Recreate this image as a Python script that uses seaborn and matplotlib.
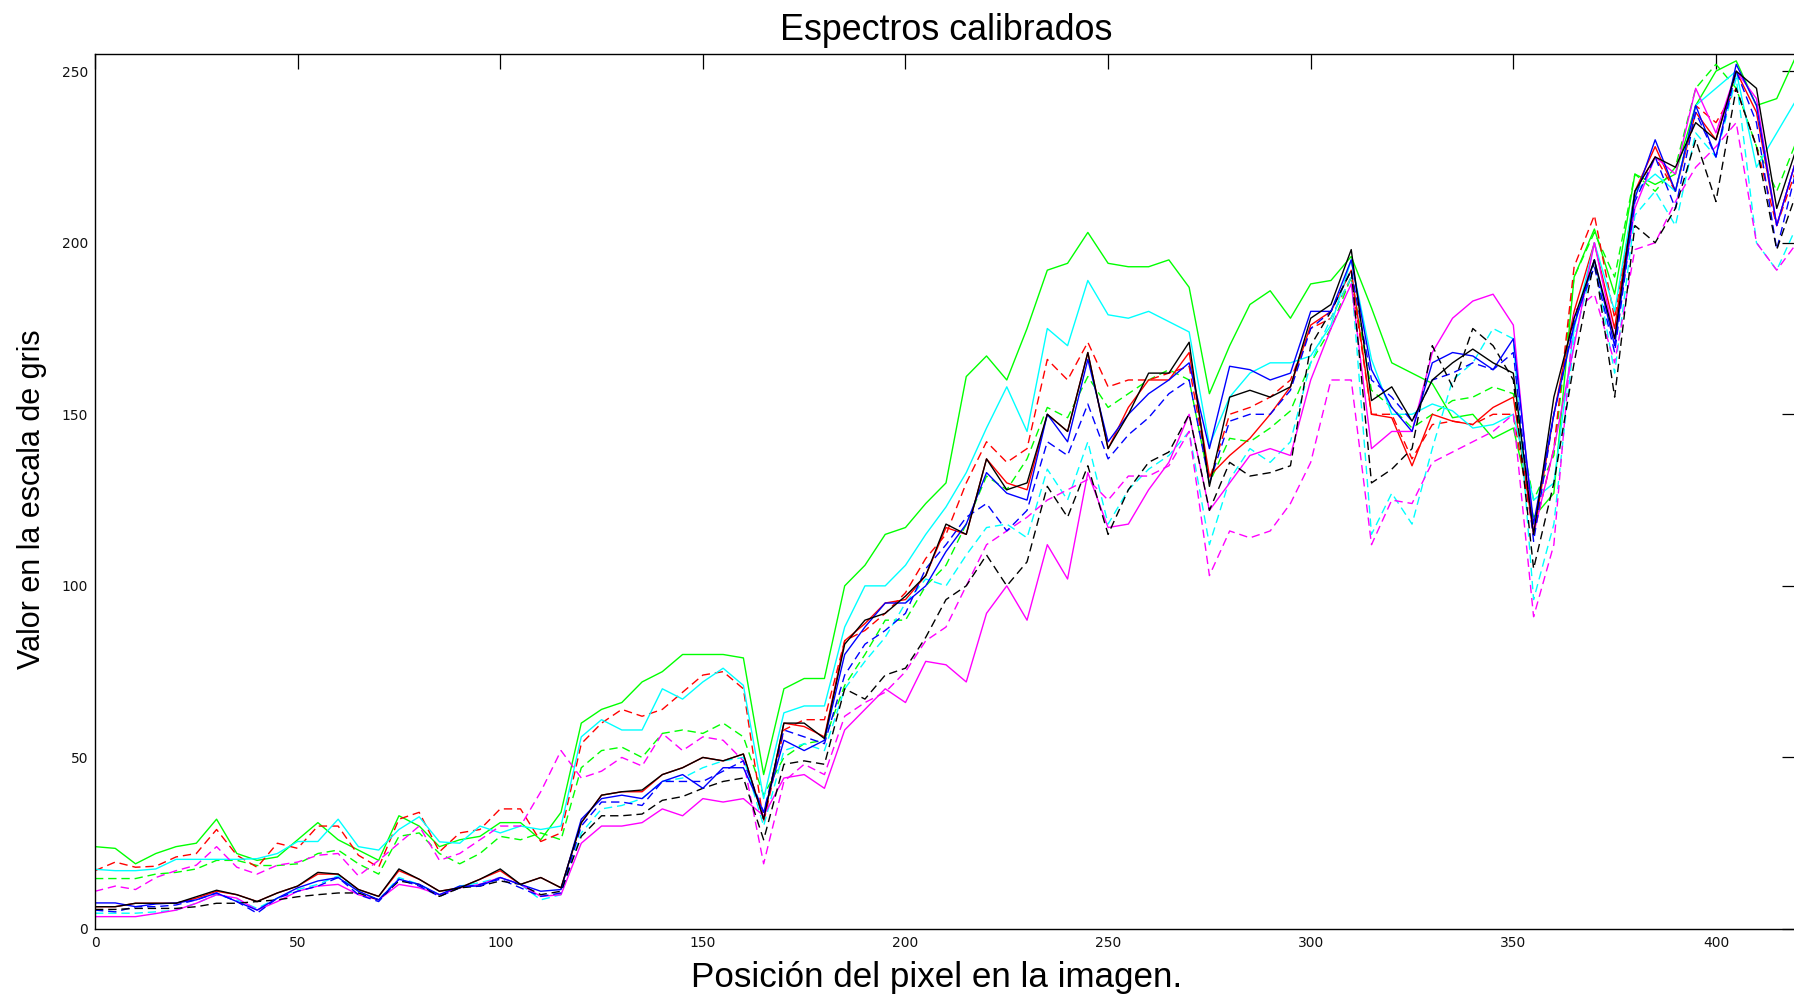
import numpy as np
import pandas as pd
import matplotlib
matplotlib.use("Agg")
import matplotlib.pyplot as plt
import seaborn as sns

# Pixel positions along the spectrum (every 5 pixels)
pixel = list(range(0, 421, 5))

# Calibrated grey levels, one array per spectrum
g_solid = [24, 23.5, 19, 22, 24, 25, 32, 22, 20, 21,
           26, 31, 26, 23, 20, 33, 30, 24, 26, 27,
           31, 31, 26, 34, 60, 64, 66, 72, 75, 80,
           80, 80, 79, 45, 70, 73, 73, 100, 106, 115,
           117, 124, 130, 161, 167, 160, 175, 192, 194, 203,
           194, 193, 193, 195, 187, 156, 170, 182, 186, 178,
           188, 189, 196, 181, 165, 162, 159, 149, 150, 143,
           146, 120, 127, 190, 204, 185, 220, 217, 220, 240,
           250, 253, 240, 242, 255]
g_dash = [14.7, 14.7, 14.7, 16, 16.5, 17.5, 20, 20, 18.5, 18.5,
          19, 22, 23, 19, 16, 27, 28, 22, 19, 22,
          27, 26, 28, 26, 47, 52, 53, 50, 57, 58,
          57, 60, 56, 39, 50, 54, 55, 71, 80, 90,
          90, 100, 106, 118, 132, 128, 137, 152, 149, 161,
          152, 156, 160, 163, 160, 130, 143, 142, 146, 151,
          165, 175, 190, 157, 152, 146, 150, 154, 155, 158,
          156, 125, 138, 190, 203, 190, 220, 215, 222, 245,
          252, 245, 228, 215, 230]
r_dash = [17, 19.5, 18, 18.3, 21, 22, 29, 21.5, 18, 25,
          23.5, 30, 30, 21.5, 18, 32, 34, 22.5, 28, 29,
          35, 35, 25.5, 28, 54, 60, 64, 62, 64, 69,
          74, 75, 70, 31, 58, 61, 61, 84, 87, 92,
          98, 108, 115, 130, 142, 136, 140, 166, 160, 171,
          158, 160, 160, 162, 164, 131, 150, 152, 155, 160,
          175, 178, 190, 150, 150, 137, 147, 148, 147, 150,
          150, 115, 140, 193, 208, 178, 215, 225, 215, 240,
          235, 245, 228, 205, 222]
r_solid = [6.5, 6.5, 7.5, 7.5, 7.5, 9, 11, 10, 8, 10.5,
           12.5, 16, 16, 11.5, 9.5, 17, 14.5, 11, 12, 14.5,
           17, 13, 15, 12, 31, 39, 40, 40, 45, 47,
           50, 49, 51, 32, 60, 59, 56, 84, 89, 95,
           96, 103, 117, 115, 137, 130, 128, 150, 145, 168,
           140, 152, 160, 160, 168, 132, 138, 143, 150, 158,
           176, 180, 192, 150, 149, 135, 150, 148, 147, 152,
           155, 115, 150, 180, 200, 175, 215, 228, 215, 238,
           230, 250, 238, 205, 225]
c_solid = [17.4, 17, 17, 17.5, 20.3, 20.3, 20.3, 20.3, 20.5, 22,
           25.5, 25.5, 32, 24, 23, 29, 32.7, 25.4, 25, 30,
           28, 30, 29, 30, 56, 61, 58, 58, 70, 67,
           72, 76, 71, 38, 63, 65, 65, 88, 100, 100,
           106, 115, 123, 133, 146, 158, 145, 175, 170, 189,
           179, 178, 180, 177, 174, 141, 155, 162, 165, 165,
           167, 176, 195, 166, 150, 150, 153, 151, 146, 147,
           150, 125, 130, 175, 200, 180, 215, 220, 215, 240,
           245, 250, 222, 232, 242]
c_dash = [4.6, 4.6, 4.6, 5, 5.5, 7.5, 10, 8.5, 6, 9,
          11.5, 13, 15.5, 11, 8.5, 15, 13, 10, 12.5, 13.5,
          15, 13, 8.5, 10, 28, 35, 36, 38, 43, 44,
          47, 49, 50, 30, 52, 54, 52, 70, 78, 85,
          95, 102, 100, 109, 117, 118, 114, 134, 125, 142,
          118, 128, 134, 138, 145, 112, 131, 140, 136, 142,
          165, 178, 190, 115, 127, 118, 140, 160, 165, 175,
          172, 96, 118, 172, 195, 162, 208, 215, 205, 232,
          225, 248, 200, 192, 205]
m_dash = [11, 12.5, 11.5, 15, 17, 18.6, 24, 18, 16, 18.6,
          19.5, 21.5, 22, 15.5, 20, 25, 30, 20, 22, 26,
          30, 30, 40, 52, 44, 46, 50, 47.5, 57, 52,
          56, 55, 49, 19, 43, 48, 45, 62, 66, 69,
          75, 84, 88, 100, 112, 116, 120, 125, 128, 131,
          125, 132, 132, 135, 145, 103, 116, 114, 116, 124,
          136, 160, 160, 112, 125, 124, 136, 139, 142, 145,
          150, 91, 112, 180, 185, 165, 198, 200, 212, 222,
          228, 235, 200, 192, 200]
m_solid = [3.6, 3.6, 3.6, 4.5, 5.5, 7.5, 10, 9, 5.5, 8,
           11, 12.5, 13, 10, 8.5, 13, 12, 10, 12, 13,
           15, 13, 9.5, 10, 25, 30, 30, 31, 35, 33,
           38, 37, 38, 33, 44, 45, 41, 58, 64, 70,
           66, 78, 77, 72, 92, 100, 90, 112, 102, 133,
           117, 118, 128, 136, 150, 122, 130, 138, 140, 138,
           160, 175, 188, 140, 145, 145, 168, 178, 183, 185,
           176, 115, 140, 170, 200, 172, 210, 225, 220, 245,
           232, 250, 242, 205, 225]
b_dash = [5.5, 5, 6.5, 6.5, 7, 8.5, 10.5, 8, 4.6, 9,
          11, 12.5, 15, 10, 8, 14.5, 12.5, 9.5, 12, 13,
          14.5, 12, 9.5, 10.5, 30, 37, 37, 36, 43, 43,
          43, 46, 49, 34, 58, 56, 54, 74, 83, 87,
          92, 105, 112, 120, 124, 116, 122, 142, 138, 153,
          137, 144, 149, 156, 160, 130, 148, 150, 150, 157,
          175, 180, 192, 160, 155, 148, 160, 162, 165, 163,
          168, 113, 150, 177, 193, 168, 212, 225, 210, 238,
          225, 250, 235, 198, 222]
k_dash = [5.7, 5.7, 6, 6, 6, 6.5, 7.5, 7.5, 8, 8.5,
          9.4, 10, 10.5, 10.5, 8.5, 14, 13, 9.5, 12, 12.5,
          14, 13, 10, 11, 27, 33, 33, 33.5, 37.5, 38.6,
          41, 43, 44, 26, 48, 49, 48, 70, 67, 74,
          76, 85, 96, 100, 109, 100, 107, 129, 120, 135,
          115, 128, 136, 139, 150, 122, 136, 132, 133, 135,
          170, 180, 192, 130, 134, 140, 170, 158, 175, 170,
          160, 105, 130, 165, 195, 155, 205, 200, 210, 230,
          212, 245, 228, 198, 215]
b_solid = [7.6, 7.6, 6.5, 7.3, 7.6, 8.5, 10.5, 8, 5.5, 9,
           12, 14, 15, 11, 8.5, 14.5, 13, 10, 12.5, 12.5,
           15, 13, 11, 11.5, 32, 38, 39, 38, 43, 45,
           41, 47, 47, 34, 55, 52, 55, 80, 88, 95,
           95, 100, 110, 118, 133, 127, 125, 150, 142, 166,
           142, 150, 156, 160, 165, 140, 164, 163, 160, 162,
           180, 180, 195, 163, 152, 145, 165, 168, 167, 163,
           172, 118, 150, 176, 195, 170, 213, 230, 215, 240,
           225, 252, 240, 205, 225]
k_solid = [6.5, 6.5, 7.5, 7.5, 7.5, 9.4, 11.3, 10, 8, 10.5,
           12.5, 16.5, 16, 11.5, 9.5, 17.5, 14.5, 11, 12, 14.5,
           17.5, 13, 15, 12, 31, 39, 40, 40.5, 45, 47,
           50, 49, 51, 32, 60, 60, 55.5, 83, 90, 92,
           97, 103, 118, 115, 137, 128, 130, 150, 145, 168,
           140, 150, 162, 162, 171, 129, 155, 157, 155, 158,
           178, 182, 198, 154, 158, 148, 160, 165, 169, 165,
           162, 115, 155, 178, 195, 172, 215, 225, 222, 235,
           230, 250, 245, 210, 228]

# (values, colour, dashed?) in drawing order
spectra = [
    (g_solid, "#00ff00", False),
    (g_dash, "#00ff00", True),
    (r_solid, "#ff0000", False),
    (r_dash, "#ff0000", True),
    (c_solid, "#00ffff", False),
    (c_dash, "#00ffff", True),
    (m_dash, "#ff00ff", True),
    (m_solid, "#ff00ff", False),
    (b_dash, "#0000ff", True),
    (k_dash, "#000000", True),
    (b_solid, "#0000ff", False),
    (k_solid, "#000000", False),
]

sns.set_theme(style="white")
plt.rcParams["font.family"] = ["Liberation Sans", "DejaVu Sans"]

W, H = 1794, 994
fig = plt.figure(figsize=(W / 100, H / 100), dpi=100, facecolor="white")
ax = fig.add_axes([95 / W, (H - 929) / H, (1797 - 95) / W, (929 - 54) / H])
ax.set_facecolor("white")

for vals, col, dashed in spectra:
    df = pd.DataFrame({"pixel": pixel, "gris": vals})
    ls = (0, (6, 3.5)) if dashed else "-"
    sns.lineplot(data=df, x="pixel", y="gris", ax=ax, color=col,
                 linewidth=1.0, linestyle=ls, sort=False,
                 estimator=None, errorbar=None)

ax.set_xlim(0, 420)
ax.set_ylim(0, 255)
ax.set_xticks(range(0, 401, 50))
ax.set_yticks(range(0, 251, 50))

for s in ax.spines.values():
    s.set_visible(True)
    s.set_color("black")
    s.set_linewidth(1.0)

ax.tick_params(axis="both", which="both", direction="in", length=10.8,
               width=0.9, colors="black", top=True, right=True,
               labelsize=10, pad=5)
for lab in ax.get_xticklabels() + ax.get_yticklabels():
    lab.set_fontfamily("DejaVu Sans")
    lab.set_color("#111111")

ax.set_xlabel("Posición del pixel en la imagen.", fontsize=25.2, color="black")
ax.xaxis.set_label_coords((937 - 95) / 1702, (929 - 977) / 875)
ax.xaxis.label.set_va("center")
ax.set_ylabel("Valor en la escala de gris", fontsize=22, color="black")
ax.yaxis.set_label_coords((32 - 95) / 1702, (929 - 499) / 875)
ax.yaxis.label.set_va("center")

fig.text(946 / W, 1 - 30 / H, "Espectros calibrados", ha="center",
         va="center", fontsize=25.8, color="black")

fig.savefig("out.png", dpi=100, facecolor="white")
